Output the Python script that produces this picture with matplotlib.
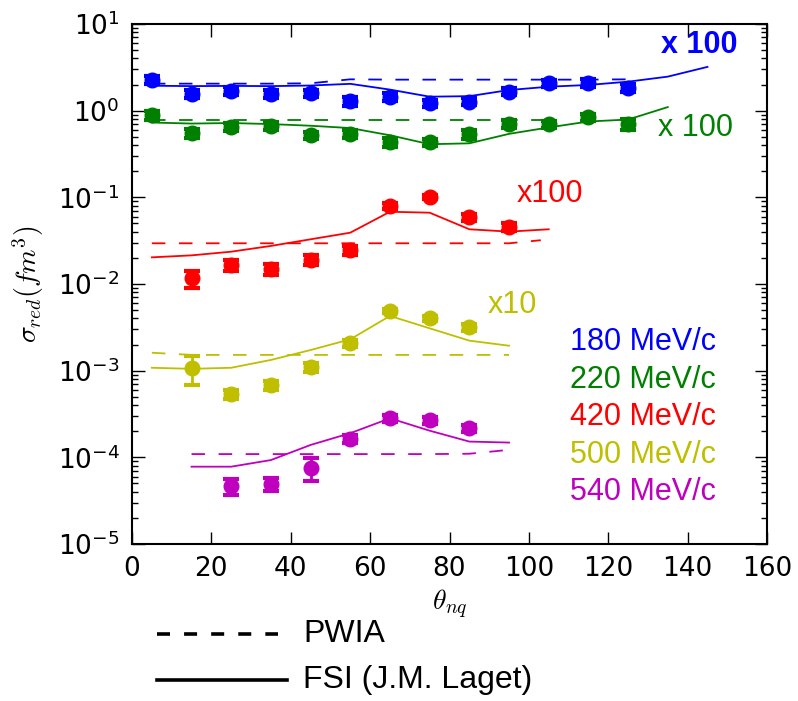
import numpy as np
import matplotlib
matplotlib.use('Agg')
import matplotlib.pyplot as plt
from matplotlib.lines import Line2D
from matplotlib.ticker import LogLocator, NullFormatter

plt.rcParams['axes.unicode_minus'] = False

# measured points (theta_nq in deg, sigma_red in fm^3, already scaled)
th_180 = [5, 15, 25, 35, 45, 55, 65, 75, 85, 95, 105, 115, 125]
d_180 = [2.26, 1.56, 1.69, 1.56, 1.59, 1.29, 1.45, 1.22, 1.27, 1.66, 2.07, 2.10, 1.84]
e_180 = [0.25, 0.15, 0.17, 0.15, 0.15, 0.15, 0.14, 0.12, 0.12, 0.16, 0.20, 0.20, 0.20]

th_220 = [5, 15, 25, 35, 45, 55, 65, 75, 85, 95, 105, 115, 125]
d_220 = [0.89, 0.55, 0.65, 0.67, 0.52, 0.54, 0.43, 0.43, 0.535, 0.71, 0.70, 0.84, 0.70]
e_220 = [0.10, 0.06, 0.07, 0.07, 0.05, 0.06, 0.05, 0.04, 0.06, 0.08, 0.07, 0.08, 0.10]

th_420 = [15, 25, 35, 45, 55, 65, 75, 85, 95]
d_420 = [0.0116, 0.0166, 0.0148, 0.0189, 0.0247, 0.079, 0.1016, 0.0587, 0.0458]
e_420 = [0.0026, 0.0025, 0.002, 0.0025, 0.003, 0.006, 0.006, 0.005, 0.005]

th_500 = [15, 25, 35, 45, 55, 65, 75, 85]
d_500 = [0.00108, 0.000535, 0.000684, 0.00109, 0.00207, 0.00489, 0.00402, 0.00316]
e_500 = [0.0004, 0.00007, 0.00008, 0.00012, 0.0002, 0.0003, 0.0003, 0.0003]

th_540 = [25, 35, 45, 55, 65, 75, 85]
d_540 = [4.67e-5, 4.93e-5, 7.6e-5, 1.63e-4, 2.82e-4, 2.70e-4, 2.16e-4]
e_540 = [1.0e-5, 8e-6, 2.2e-5, 1.8e-5, 2.5e-5, 2.5e-5, 2e-5]

# theory curves
fsi_th_180 = [5, 15, 25, 35, 45, 55, 65, 75, 85, 95, 105, 115, 125, 135, 145]
fsi_180 = [1.94, 1.92, 1.93, 1.92, 1.95, 2.04, 1.75, 1.45, 1.47, 1.73, 1.89, 1.98, 2.16, 2.47, 3.2]
pw_th_180 = [5, 15, 25, 35, 45, 55, 65, 75, 85, 95, 105, 115, 125]
pw_180 = [2.05, 2.05, 2.05, 2.05, 2.07, 2.3, 2.28, 2.28, 2.28, 2.28, 2.28, 2.28, 2.3]

fsi_th_220 = [5, 15, 25, 35, 45, 55, 65, 75, 85, 95, 105, 115, 125, 135]
fsi_220 = [0.73, 0.71, 0.72, 0.70, 0.67, 0.63, 0.52, 0.41, 0.42, 0.54, 0.64, 0.75, 0.79, 1.10]
pw_th_220 = [5, 15, 25, 35, 45, 55, 65, 75, 85, 95, 105]
pw_220 = [0.78, 0.78, 0.78, 0.78, 0.78, 0.78, 0.78, 0.78, 0.78, 0.78, 0.78]

fsi_th_420 = [5, 15, 25, 35, 45, 55, 65, 75, 85, 95, 105]
fsi_420 = [0.0203, 0.0214, 0.0236, 0.0275, 0.0328, 0.0391, 0.0682, 0.0665, 0.0428, 0.0402, 0.0428]
pw_th_420 = [5, 15, 25, 35, 45, 55, 65, 75, 85, 95, 103]
pw_420 = [0.0295, 0.0295, 0.0295, 0.0295, 0.0295, 0.0295, 0.0295, 0.0295, 0.0295, 0.0295, 0.032]

fsi_th_500 = [5, 15, 25, 35, 45, 55, 65, 75, 85, 95]
fsi_500 = [0.00108, 0.00105, 0.00108, 0.00133, 0.00173, 0.0023, 0.00428, 0.00308, 0.00222, 0.00194]
pw_th_500 = [5, 15, 25, 35, 45, 55, 65, 75, 85, 95]
pw_500 = [0.00161, 0.00152, 0.00152, 0.00152, 0.00152, 0.00152, 0.00152, 0.00152, 0.00152, 0.00152]

fsi_th_540 = [15, 25, 35, 45, 55, 65, 75, 85, 95]
fsi_540 = [7.8e-5, 7.8e-5, 9.3e-5, 1.39e-4, 1.90e-4, 2.82e-4, 2.03e-4, 1.52e-4, 1.48e-4]
pw_th_540 = [15, 25, 35, 45, 55, 65, 75, 85, 95]
pw_540 = [1.09e-4, 1.09e-4, 1.09e-4, 1.09e-4, 1.09e-4, 1.09e-4, 1.09e-4, 1.10e-4, 1.22e-4]

labels = ['180 MeV/c', '220 MeV/c', '420 MeV/c', '500 MeV/c', '540 MeV/c']
colors = ['#0000ff', '#008000', '#ff0000', '#bfbf00', '#bf00bf']

fig = plt.figure(figsize=(7.98, 7.01), dpi=100)
ax = fig.add_axes([132/798, 1-544/701, 635/798, 520/701])

series = [
    (th_180, d_180, e_180, fsi_th_180, fsi_180, pw_th_180, pw_180),
    (th_220, d_220, e_220, fsi_th_220, fsi_220, pw_th_220, pw_220),
    (th_420, d_420, e_420, fsi_th_420, fsi_420, pw_th_420, pw_420),
    (th_500, d_500, e_500, fsi_th_500, fsi_500, pw_th_500, pw_500),
    (th_540, d_540, e_540, fsi_th_540, fsi_540, pw_th_540, pw_540),
]

for (th, d, e, ft, f, pt, p), c in zip(series, colors):
    ax.plot(ft, f, '-', color=c, lw=1.3)
    ax.plot(pt, p, color=c, lw=1.3, dashes=(7.5, 7.5))
    ax.errorbar(th, d, yerr=e, fmt='o', color=c, ms=10.5, mec=c,
                elinewidth=2, capsize=6, capthick=3, zorder=5)

# scale factors
ax.text(133.3, 5.7, 'x 100', color=colors[0], fontsize=22, fontweight='bold',
        family='Liberation Sans', va='center')
ax.text(132.6, 0.63, 'x 100', color=colors[1], fontsize=22,
        family='Liberation Sans', va='center')
ax.text(97, 0.109, 'x100', color=colors[2], fontsize=22,
        family='Liberation Sans', va='center')
ax.text(89.7, 0.00573, 'x10', color=colors[3], fontsize=22,
        family='Liberation Sans', va='center')

lab_y = [0.00216, 0.00078, 0.000294, 0.0001064, 4.02e-5]
for s, c, yy in zip(labels, colors, lab_y):
    ax.text(110.4, yy, s, color=c, fontsize=22, family='Liberation Sans', va='center')

ax.set_yscale('log')
ax.set_xlim(0, 160)
ax.set_ylim(1e-5, 1e1)
ax.set_xticks(np.arange(0, 161, 20))
ax.yaxis.set_major_locator(LogLocator(base=10, numticks=10))
ax.yaxis.set_minor_locator(LogLocator(base=10, subs=np.arange(2, 10), numticks=10))
ax.yaxis.set_minor_formatter(NullFormatter())
ax.tick_params(which='both', direction='in', top=True, right=True, labelsize=19)
ax.tick_params(which='major', length=9, width=1)
ax.tick_params(which='minor', length=4.5, width=1)
ax.tick_params(axis='x', pad=9)
ax.tick_params(axis='y', pad=9)
for sp in ax.spines.values():
    sp.set_linewidth(1.5)

ax.set_ylabel(r'$\sigma_{red}(fm^3)$', fontsize=20, math_fontfamily='cm')
ax.set_xlabel(r'$\theta_{nq}$', fontsize=20, math_fontfamily='cm')
ax.yaxis.set_label_coords(-0.135, 0.5)
ax.xaxis.set_label_coords(0.5, -0.085)

# line-style key below the axes
fig.add_artist(Line2D([157/798, 278/798], [1-634/701, 1-634/701], color='black',
                      lw=2.6, dashes=(3.6, 3.9)))
fig.add_artist(Line2D([157/798, 287/798], [1-680/701, 1-680/701], color='black', lw=2.6))
fig.text(303/798, 1-634/701, 'PWIA', fontsize=23, family='Liberation Sans', va='center')
fig.text(303/798, 1-680/701, 'FSI (J.M. Laget)', fontsize=23, family='Liberation Sans',
         va='center')

fig.savefig('out.png', dpi=100)
